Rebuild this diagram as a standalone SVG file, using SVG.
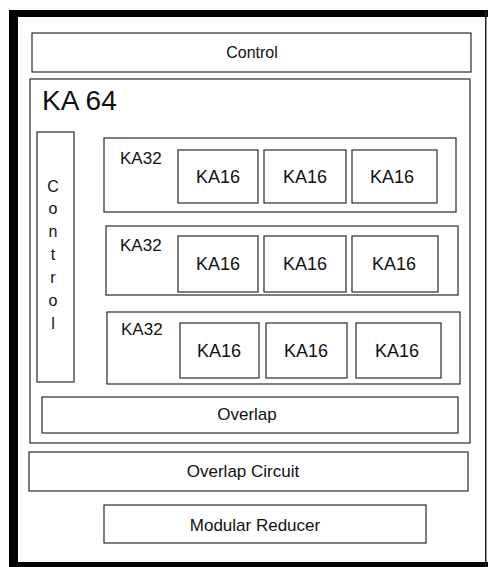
<svg xmlns="http://www.w3.org/2000/svg" width="488" height="567" viewBox="0 0 488 567">
<style>
.b{fill:none;stroke:#2a2a2a;stroke-width:1.2}
.t{font-family:"Liberation Sans",Arial,sans-serif;fill:#111;text-anchor:middle}
.l{font-family:"Liberation Sans",Arial,sans-serif;fill:#111}
</style>
<rect width="488" height="567" fill="#fff"/>
<g id="frame">
<rect x="9" y="10" width="479" height="7" fill="#000"/>
<rect x="9" y="10" width="9" height="557" fill="#000"/>
<rect x="9" y="562" width="479" height="5" fill="#000"/>
<rect x="485" y="10" width="1.5" height="557" fill="#222"/>
</g>
<g id="control-top">
<rect class="b" x="32" y="33" width="439" height="39"/>
<text class="t" x="252" y="58" font-size="16">Control</text>
</g>
<g id="ka64">
<rect class="b" x="30" y="79" width="440" height="364"/>
<text class="l" x="42" y="110" font-size="28">KA 64</text>
</g>
<g id="control-side">
<rect class="b" x="37" y="132" width="37" height="250"/>
<g class="t" font-size="16">
<text x="53" y="192">C</text>
<text x="53" y="214">o</text>
<text x="53" y="237">n</text>
<text x="53" y="260">t</text>
<text x="53" y="283">r</text>
<text x="53" y="306">o</text>
<text x="53" y="329">l</text>
</g>
</g>
<g id="ka32-1">
<rect class="b" x="104" y="138" width="352" height="74"/>
<text class="l" x="120" y="164" font-size="17">KA32</text>
</g>
<g id="ka16-1a"><rect class="b" x="178" y="150" width="80" height="53"/><text class="t" x="218" y="183" font-size="18">KA16</text></g>
<g id="ka16-1b"><rect class="b" x="264" y="150" width="82" height="53"/><text class="t" x="305" y="183" font-size="18">KA16</text></g>
<g id="ka16-1c"><rect class="b" x="352" y="150" width="85" height="53"/><text class="t" x="392" y="183" font-size="18">KA16</text></g>
<g id="ka32-2">
<rect class="b" x="106" y="226" width="352" height="69"/>
<text class="l" x="120" y="251" font-size="17">KA32</text>
</g>
<g id="ka16-2a"><rect class="b" x="178" y="236" width="80" height="56"/><text class="t" x="218" y="270" font-size="18">KA16</text></g>
<g id="ka16-2b"><rect class="b" x="264" y="236" width="82" height="56"/><text class="t" x="305" y="270" font-size="18">KA16</text></g>
<g id="ka16-2c"><rect class="b" x="352" y="236" width="86" height="56"/><text class="t" x="394" y="270" font-size="18">KA16</text></g>
<g id="ka32-3">
<rect class="b" x="107" y="312" width="353" height="72"/>
<text class="l" x="121" y="335" font-size="17">KA32</text>
</g>
<g id="ka16-3a"><rect class="b" x="180" y="323" width="79" height="55"/><text class="t" x="219" y="357" font-size="18">KA16</text></g>
<g id="ka16-3b"><rect class="b" x="266" y="323" width="81" height="55"/><text class="t" x="306" y="357" font-size="18">KA16</text></g>
<g id="ka16-3c"><rect class="b" x="356" y="323" width="85" height="55"/><text class="t" x="397" y="357" font-size="18">KA16</text></g>
<g id="overlap">
<rect class="b" x="42" y="397" width="416" height="36"/>
<text class="t" x="247" y="420" font-size="17">Overlap</text>
</g>
<g id="overlap-circuit">
<rect class="b" x="29" y="452" width="439" height="39"/>
<text class="t" x="243" y="477" font-size="17">Overlap Circuit</text>
</g>
<g id="modular-reducer">
<rect class="b" x="104" y="505" width="322" height="38"/>
<text class="t" x="255" y="531" font-size="17">Modular Reducer</text>
</g>
<g id="connectors"/>
</svg>
